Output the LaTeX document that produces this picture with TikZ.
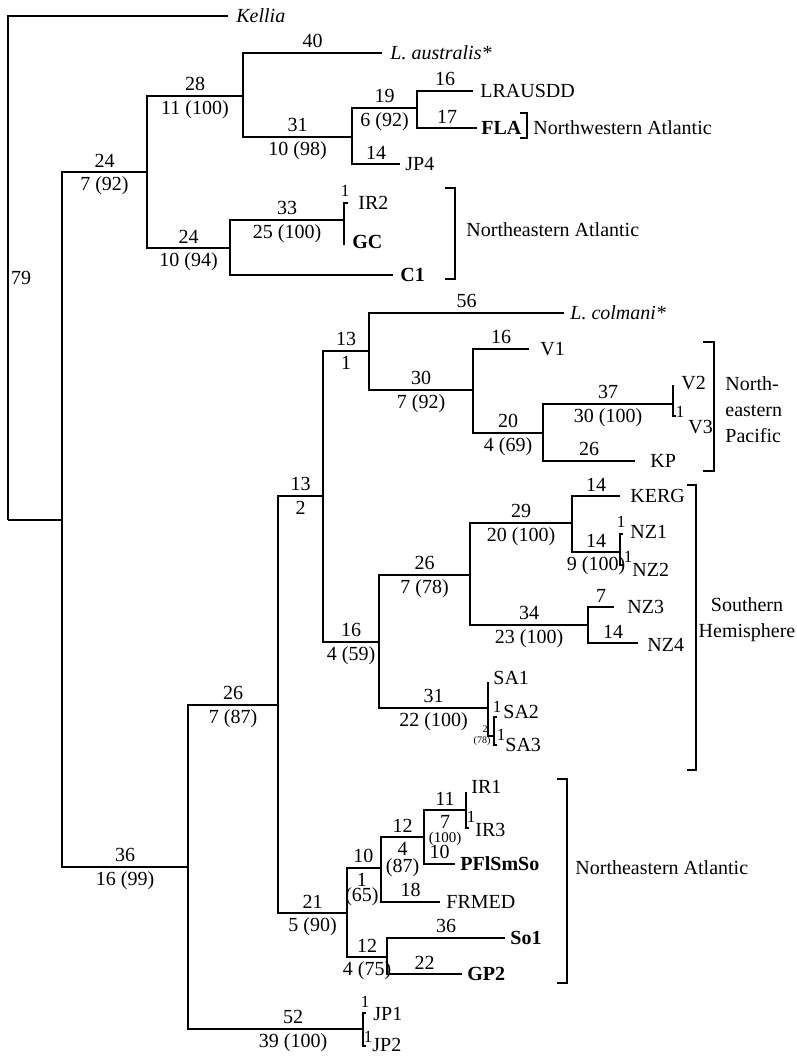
\documentclass[tikz,border=0pt]{standalone}
\usepackage{fontspec}
\setmainfont{Liberation Serif}
\usetikzlibrary{calc}

\begin{document}
\begin{tikzpicture}[x=0.5pt,y=-0.5pt,
        br/.style={line width=0.9pt},
        up/.style={above=1pt,inner sep=1pt},
        dn/.style={below=1pt,inner sep=1pt,align=center},
        tip/.style={anchor=west,inner sep=0pt,text height=0.68em,text depth=0pt},
        sm/.style={font=\fontsize{8.5}{9}\selectfont,inner sep=0pt},
        tn/.style={font=\fontsize{5}{5.5}\selectfont,inner sep=0pt},
        region/.style={anchor=west,inner sep=0pt,align=left,font=\fontsize{10}{13}\selectfont}]
        \useasboundingbox (0,0) rectangle (797,1056);

        % internal nodes
        \coordinate (root) at (8,520);
        \coordinate (ing) at (62,520);
        \coordinate (nA) at (147,172);
        \coordinate (nB) at (243,96);
        \coordinate (nC) at (352,137);
        \coordinate (nD) at (417,108);
        \coordinate (nE) at (230,248);
        \coordinate (nF) at (344,220);
        \coordinate (nG) at (188,867);
        \coordinate (nH) at (278,705);
        \coordinate (nI) at (323,496);
        \coordinate (nJ) at (369,351);
        \coordinate (nK) at (473,390);
        \coordinate (nL) at (543,433);
        \coordinate (nM) at (673,404);
        \coordinate (nN) at (379,642);
        \coordinate (nO) at (470,575);
        \coordinate (nP) at (572,523);
        \coordinate (nQ) at (620,552);
        \coordinate (nR) at (588,625);
        \coordinate (nS) at (488,708);
        \coordinate (nT) at (494,736);
        \coordinate (nU) at (347,913);
        \coordinate (nV) at (381,868);
        \coordinate (nW) at (424,837);
        \coordinate (nX) at (466,810);
        \coordinate (nY) at (387,957);
        \coordinate (nZ) at (363,1029);

        % branch ends
        \foreach \n/\x/\y in {kellia/228/16, laus/382/53, lrausdd/473/91, fla/477/128,
            jp4/400/164, ir2/348/203, gc/344/245, c1/393/275, lcol/564/313, v1/529/349,
            v2/673/385, v3/676/416, kp/635/461, kerg/620/496, nz1/623/534, nz2/623/565,
            nz3/614/607, nz4/638/643, sa1/488/682, sa2/497/717, sa3/497/745,
            ir1/466/792, ir3/469/828, pfl/455/864, frmed/440/902, so1/505/938,
            gp2/462/974, jp1/366/1013, jp2/366/1046}
            \coordinate (\n) at (\x,\y);

        % taxa
        \node[tip] (kellia-lab) at (236,16) {\textit{Kellia}};
        \node[tip] (laus-lab) at (390,53) {\textit{L. australis*}};
        \node[tip] (lrausdd-lab) at (480,91) {LRAUSDD};
        \node[tip] (fla-lab) at (481,128) {\textbf{FLA}};
        \node[tip] (jp4-lab) at (405,164) {JP4};
        \node[tip] (ir2-lab) at (358,203) {IR2};
        \node[tip] (gc-lab) at (352,242) {\textbf{GC}};
        \node[tip] (c1-lab) at (400,275) {\textbf{C1}};
        \node[tip] (lcol-lab) at (570,313) {\textit{L. colmani*}};
        \node[tip] (v1-lab) at (540,349) {V1};
        \node[tip] (v2-lab) at (681,383) {V2};
        \node[tip] (v3-lab) at (688,427) {V3};
        \node[tip] (kp-lab) at (650,461) {KP};
        \node[tip] (kerg-lab) at (630,496) {KERG};
        \node[tip] (nz1-lab) at (630,532) {NZ1};
        \node[tip] (nz2-lab) at (632,570) {NZ2};
        \node[tip] (nz3-lab) at (627,607) {NZ3};
        \node[tip] (nz4-lab) at (647,645) {NZ4};
        \node[tip] (sa1-lab) at (493,678) {SA1};
        \node[tip] (sa2-lab) at (503,712) {SA2};
        \node[tip] (sa3-lab) at (505,745) {SA3};
        \node[tip] (ir1-lab) at (471,787) {IR1};
        \node[tip] (ir3-lab) at (475,830) {IR3};
        \node[tip] (pfl-lab) at (460,864) {\textbf{PFlSmSo}};
        \node[tip] (frmed-lab) at (446,902) {FRMED};
        \node[tip] (so1-lab) at (510,938) {\textbf{So1}};
        \node[tip] (gp2-lab) at (467,974) {\textbf{GP2}};
        \node[tip] (jp1-lab) at (373,1014) {JP1};
        \node[tip] (jp2-lab) at (372,1045) {JP2};

        % branches with two values
        \foreach \p/\c/\a/\b in {ing/nA/24/7 (92), nA/nB/28/11 (100), nB/nC/31/10 (98),
            nC/nD/19/6 (92), nA/nE/24/10 (94), nE/nF/33/25 (100), ing/nG/36/16 (99),
            nG/nH/26/7 (87), nH/nI/13/2, nI/nJ/13/1, nJ/nK/30/7 (92), nK/nL/20/4 (69),
            nL/nM/37/30 (100), nI/nN/16/4 (59), nN/nO/26/7 (78), nO/nP/29/20 (100),
            nP/nQ/14/9 (100), nO/nR/34/23 (100), nN/nS/31/22 (100), nH/nU/21/5 (90),
            nU/nY/12/4 (75)}
            \draw[br] (\p) |- (\c) node[pos=.75,up] {\a} node[pos=.75,dn] {\b};
        \draw[br] (nG) |- (nZ) node[pos=.8,up] {52} node[pos=.8,dn] {39 (100)};
        \draw[br] (nU) |- (nV) node[pos=.74,up] {10}
            node[pos=.72,dn,font=\fontsize{10}{7.5}\selectfont] {1\\(65)};
        \draw[br] (nV) |- (nW) node[pos=.75,up] {12}
            node[pos=.75,dn,font=\fontsize{10}{8.5}\selectfont] {4\\(87)};
        \draw[br] (nW) |- (nX) node[pos=.75,up] {11}
            node[pos=.75,dn,font=\fontsize{10}{7}\selectfont] {7\\{\fontsize{7.5}{8}\selectfont(100)}};

        % terminal branches
        \foreach \p/\c/\a in {nB/laus/40, nD/lrausdd/16, nD/fla/17, nC/jp4/14,
            nJ/lcol/56, nK/v1/16, nL/kp/26, nP/kerg/14, nR/nz3/7, nR/nz4/14,
            nW/pfl/10, nV/frmed/18, nY/so1/36, nY/gp2/22}
            \draw[br] (\p) |- (\c) node[pos=.75,up] {\a};
        \foreach \p/\c in {root/kellia, nE/c1, nF/ir2, nF/gc, nM/v2, nM/v3, nQ/nz1,
            nQ/nz2, nS/sa1, nS/nT, nT/sa2, nT/sa3, nX/ir1, nX/ir3, nZ/jp1, nZ/jp2}
            \draw[br] (\p) |- (\c);
        \draw[br] (root) -- (ing);

        % short branch values
        \node (l79) at (21,278) {79};
        \node[sm] (l-ir2) at (345,191) {1};
        \node[sm] (l-v3) at (680,412) {1};
        \node[sm] (l-nz1) at (621,522) {1};
        \node[sm] (l-nz2) at (628,557) {1};
        \node[sm] (l-sa2) at (497,707) {1};
        \node[sm] (l-sa3) at (501,735) {1};
        \node[sm] (l-ir3) at (471,817) {1};
        \node[sm] (l-jp1) at (365,1002) {1};
        \node[sm] (l-jp2) at (368,1037) {1};
        \node[tn] (l-t2) at (485,729) {2};
        \node[tn] (l-t78) at (482,741) {(78)};

        % geographic groups
        \draw[br] (520,113) -- (527,113) -- (527,138) -- (520,138);
        \node[region] (nwatl) at (533,128) {Northwestern Atlantic};
        \draw[br] (445,188) -- (455,188) -- (455,279) -- (445,279);
        \node[region] (neatl1) at (466,230) {Northeastern Atlantic};
        \draw[br] (703,342) -- (714,342) -- (714,471) -- (703,471);
        \node[region] (nepac) at (725,410) {North-\\eastern\\Pacific};
        \draw[br] (687,485) -- (696,485) -- (696,770) -- (687,770);
        \node[region,anchor=center,align=center] (shem) at (747,620) {Southern\\Hemisphere};
        \draw[br] (557,779) -- (567,779) -- (567,983) -- (557,983);
        \node[region] (neatl2) at (575,868) {Northeastern Atlantic};
\end{tikzpicture}
\end{document}
